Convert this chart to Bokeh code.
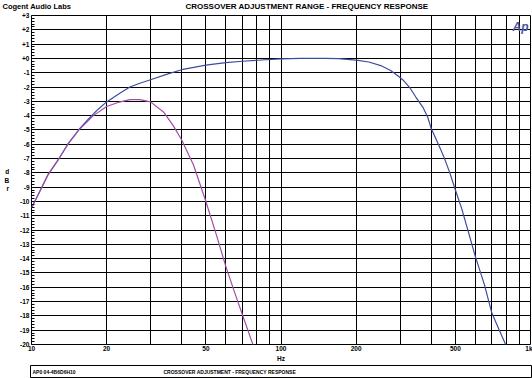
from bokeh.plotting import figure
from bokeh.models import FixedTicker, Label, ColumnDataSource
from bokeh.embed import file_html
from bokeh.resources import INLINE

# ---- data ----
high_freq = [10, 11, 11.65, 12.9, 14.0, 15.5, 17.0, 18.5, 20, 22.5, 24.8, 27, 30, 35, 40, 50,
             60, 70, 80, 100, 120, 150, 170, 200, 225, 251, 275, 293, 310, 330, 347, 370,
             387, 400, 430, 450, 475, 500, 530, 561, 600, 653, 700, 750, 790, 820]
high_db = [-10.46, -9.0, -8.12, -6.98, -5.98, -4.97, -4.2, -3.55, -3.04, -2.45, -2.0, -1.75,
           -1.49, -1.1, -0.79, -0.47, -0.29, -0.2, -0.13, -0.03, 0.0, 0.0, -0.02, -0.12,
           -0.25, -0.5, -0.85, -1.2, -1.55, -2.1, -2.7, -3.4, -4.09, -4.9, -6.1, -6.9, -8.0,
           -9.2, -10.5, -12.0, -13.8, -15.8, -17.8, -19.0, -19.9, -20.6]

low_freq = [10, 11, 11.65, 12.9, 14.0, 15.5, 17.7, 20, 22.5, 24.8, 27.2, 30, 33.8, 37, 40,
            44.6, 50, 55, 60, 65, 70, 76.6, 80]
low_db = [-10.46, -9.0, -8.14, -7.0, -6.0, -5.0, -4.0, -3.36, -3.05, -2.88, -2.88, -3.04,
          -3.74, -4.7, -5.7, -7.45, -10.0, -12.3, -14.5, -16.3, -17.9, -19.85, -20.8]

x_grid_ticks = [10, 20, 30, 40, 50, 60, 70, 80, 90, 100, 200, 300, 400, 500, 600, 700, 800, 900, 1000]
x_label_ticks = [10, 20, 50, 100, 200, 500, 1000]
x_tick_labels = ["10", "20", "50", "100", "200", "500", "1k"]
y_ticks = list(range(-20, 4))
y_tick_labels = [("+%d" % v) if v >= 0 else ("%d" % v) for v in y_ticks]
y_minor = [v / 5.0 for v in range(-100, 16)]

FONT = "Liberation Sans"
BLACK = "#000000"
BLUE = "#3c4c9e"
MAGENTA = "#a04ea6"

W = 532
HEAD_H = 11          # header strip (company + title)
MAIN_H = 353         # main chart canvas
FOOT_H = 14          # info box strip
FL, FR = 31, 530     # frame left/right (canvas px)
FT_MAIN, FB_MAIN = 4, 334   # frame top/bottom inside main canvas


def strip(height, **borders):
    f = figure(width=W, height=height, x_range=(0, 1), y_range=(0, 1),
               x_axis_location=None, y_axis_location=None,
               output_backend="svg", toolbar_location=None, **borders)
    f.grid.visible = False
    f.background_fill_color = "white"
    f.border_fill_color = "white"
    return f


# ---------- header ----------
head = strip(HEAD_H, min_border_left=0, min_border_right=0, min_border_top=0, min_border_bottom=0)
head.outline_line_color = None


def head_text(text, px, size):
    head.add_layout(Label(x=px, y=HEAD_H - 5, x_units="screen", y_units="screen", text=text,
                          text_font=FONT, text_font_size=size, text_font_style="bold",
                          text_color=BLACK, text_align="left", text_baseline="middle"))


head_text("Cogent Audio Labs", 2, "7.5px")
head_text("CROSSOVER ADJUSTMENT RANGE - FREQUENCY RESPONSE", 185, "8px")

# ---------- main chart ----------
p = figure(width=W, height=MAIN_H, x_axis_type="log", x_range=(10, 1000), y_range=(-20, 3),
           output_backend="svg", toolbar_location=None,
           min_border_left=FL, min_border_right=W - FR, min_border_top=FT_MAIN,
           min_border_bottom=MAIN_H - FB_MAIN)
p.background_fill_color = "white"
p.border_fill_color = "white"
p.outline_line_color = BLACK
p.outline_line_width = 1
p.outline_line_alpha = 1

p.xgrid.ticker = FixedTicker(ticks=x_grid_ticks)
p.ygrid.ticker = FixedTicker(ticks=y_ticks)
for g in (p.xgrid, p.ygrid):
    g.grid_line_color = BLACK
    g.grid_line_width = 1
    g.grid_line_alpha = 1

xa = p.xaxis[0]
xa.ticker = FixedTicker(ticks=x_label_ticks)
xa.major_label_overrides = dict(zip(x_label_ticks, x_tick_labels))
xa.major_tick_in = 0
xa.major_tick_out = 0
xa.minor_tick_in = 0
xa.minor_tick_out = 0
xa.axis_line_color = None
xa.major_label_standoff = 0
xa.major_label_text_font = FONT
xa.major_label_text_font_style = "bold"
xa.major_label_text_font_size = "6.5px"
xa.major_label_text_color = BLACK
xa.axis_label = "Hz"
xa.axis_label_standoff = 0
xa.axis_label_text_font = FONT
xa.axis_label_text_font_style = "bold"
xa.axis_label_text_font_size = "6.5px"
xa.axis_label_text_color = BLACK

ya = p.yaxis[0]
ya.ticker = FixedTicker(ticks=y_ticks, minor_ticks=y_minor)
ya.major_label_overrides = dict(zip(y_ticks, y_tick_labels))
ya.major_tick_in = 0
ya.major_tick_out = 0
ya.minor_tick_in = 3
ya.minor_tick_out = 0
ya.minor_tick_line_color = BLACK
ya.axis_line_color = None
ya.major_label_standoff = 2
ya.major_label_text_font = FONT
ya.major_label_text_font_style = "bold"
ya.major_label_text_font_size = "6.5px"
ya.major_label_text_color = BLACK
ya.axis_label = "d\nB\nr"
ya.axis_label_orientation = "horizontal"
ya.axis_label_standoff = 8
ya.axis_label_text_font = FONT
ya.axis_label_text_font_style = "bold"
ya.axis_label_text_font_size = "6.5px"
ya.axis_label_text_color = BLACK

src_high = ColumnDataSource(dict(f=high_freq, db=high_db))
src_low = ColumnDataSource(dict(f=low_freq, db=low_db))
p.line("f", "db", source=src_high, line_color=BLUE, line_width=1.2)
p.line("f", "db", source=src_low, line_color=MAGENTA, line_width=1.2)

# "Ap" logo inside the frame, top right (frame-relative screen units)
frame_h = FB_MAIN - FT_MAIN
p.add_layout(Label(x=512 - FL, y=frame_h - 12, x_units="screen", y_units="screen", text="Ap",
                   text_font=FONT, text_font_size="12px", text_font_style="bold italic",
                   text_color="#4657ab", text_align="left", text_baseline="alphabetic"))

# ---------- bottom info box ----------
foot = strip(FOOT_H, min_border_left=30, min_border_right=1, min_border_top=1, min_border_bottom=1)
foot.outline_line_color = BLACK
foot.outline_line_width = 1
foot.outline_line_alpha = 1
foot.add_layout(Label(x=2, y=6, x_units="screen", y_units="screen", text="AP0 04-4B6D6H10",
                      text_font=FONT, text_font_size="5px", text_font_style="bold",
                      text_color=BLACK, text_baseline="middle"))
foot.add_layout(Label(x=133, y=6, x_units="screen", y_units="screen",
                      text="CROSSOVER ADJUSTMENT - FREQUENCY RESPONSE",
                      text_font=FONT, text_font_size="5px", text_font_style="bold",
                      text_color=BLACK, text_baseline="middle"))

open("out.html", "w").write(file_html([head, p, foot], INLINE))
